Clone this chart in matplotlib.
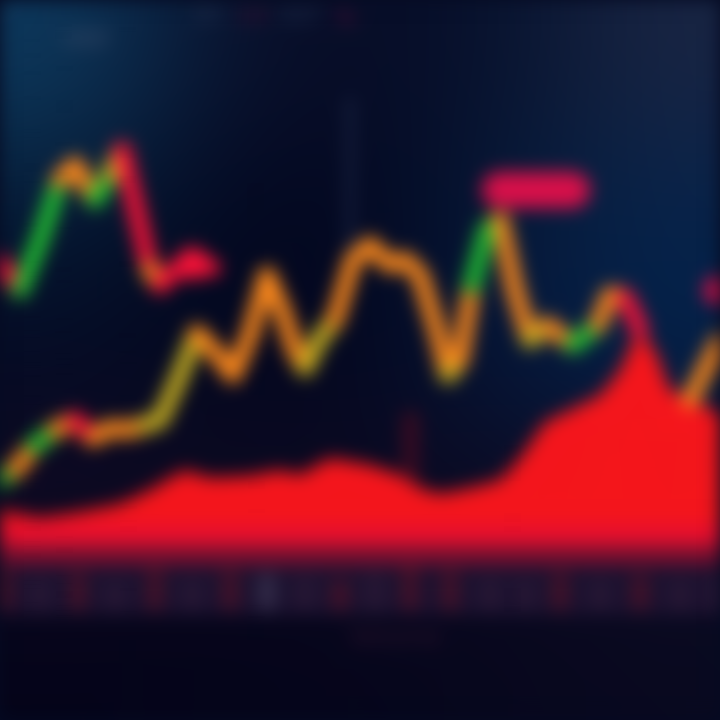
import numpy as np
import matplotlib
matplotlib.use("Agg")
import matplotlib.pyplot as plt
from matplotlib.collections import LineCollection

# upper trace (earlier session)
upper_t = [0, 20, 40, 60, 75, 95, 110, 122, 135, 150, 160, 175, 195, 212]
upper_p = [458, 430, 480, 540, 555, 520, 545, 570, 515, 450, 435, 450, 458, 452]
upper_trend = ['dn', 'up', 'up', 'fl', 'fl', 'up', 'mx', 'dn', 'dn', 'fl', 'dn', 'dn', 'dn']

# main trace
main_t = [0, 15, 35, 55, 75, 93, 110, 127, 145, 160, 178, 197, 215, 233, 250, 267,
          282, 295, 305, 320, 335, 353, 370, 390, 405, 420, 437, 448, 460, 472,
          487, 500, 515, 530, 547, 573, 598, 610, 625, 640]
main_p = [240, 250, 275, 290, 300, 282, 292, 290, 295, 300, 340, 387, 368, 345, 385, 445,
          410, 370, 352, 382, 400, 460, 475, 455, 460, 445, 390, 345, 360, 435,
          490, 500, 430, 380, 395, 375, 395, 425, 423, 390]
main_trend = ['up', 'fl', 'up', 'fl', 'dn', 'fl', 'fl', 'fl', 'mx', 'mx', 'mx', 'fl',
              'fl', 'fl', 'fl', 'fl', 'fl', 'fl', 'mx', 'mx', 'fl', 'fl', 'fl', 'fl',
              'fl', 'fl', 'fl', 'mx', 'fl', 'up', 'up', 'fl', 'fl', 'mx', 'fl', 'up',
              'fl', 'fl', 'dn']

# tail at the right edge
tail_t = [690, 705, 720]
tail_p = [320, 350, 380]
tail_trend = ['fl', 'fl']

# depth / red area
area_t = [0, 40, 80, 120, 150, 170, 185, 210, 250, 280, 300, 330, 370, 400, 420,
          440, 470, 500, 520, 545, 570, 600, 620, 638, 655, 670, 690, 710, 720]
area_p = [210, 202, 208, 216, 230, 242, 250, 242, 244, 250, 245, 262, 255, 245, 232,
          226, 232, 240, 262, 298, 310, 325, 350, 390, 370, 330, 322, 312, 305]
area_base = 175

# volume strip
vol_t = [5, 40, 78, 115, 155, 192, 230, 267, 305, 340, 375, 410, 450, 490, 525,
         560, 600, 640, 680, 715]
vol_h = [40, 30, 38, 28, 42, 30, 40, 36, 34, 30, 38, 44, 40, 32, 30, 38, 30, 36, 30, 34]
vol_up = [0, 1, 0, 1, 0, 1, 0, 2, 1, 0, 1, 0, 0, 1, 1, 0, 1, 0, 1, 1]

trend_colors = {'up': '#22c232', 'dn': '#ff1238', 'fl': '#ff8a1c', 'mx': '#c8b020'}


def box_blur(a, r, axis):
    a = np.moveaxis(a, axis, 0)
    p = np.pad(a, [(r + 1, r)] + [(0, 0)] * (a.ndim - 1), mode="edge")
    c = np.cumsum(p, axis=0)
    out = (c[2 * r + 1:] - c[:-2 * r - 1]) / (2 * r + 1)
    return np.moveaxis(out, 0, axis)


def blur_filter(im, dpi):
    pad = 40
    a = np.pad(im, [(pad, pad), (pad, pad), (0, 0)], mode="constant")
    alpha = a[..., 3:4]
    stack = np.concatenate([a[..., :3] * alpha, alpha], axis=2)
    for _ in range(3):
        stack = box_blur(stack, 8, 0)
        stack = box_blur(stack, 8, 1)
    alpha = stack[..., 3:4]
    rgb = stack[..., :3] / np.maximum(alpha, 1e-6)
    out = np.concatenate([np.clip(rgb, 0, 1), np.clip(alpha, 0, 1)], axis=2)
    return out, -pad, -pad


def segments(t, p):
    pts = np.column_stack([t, p])
    return np.stack([pts[:-1], pts[1:]], axis=1)


fig = plt.figure(figsize=(7.2, 7.2), dpi=100, facecolor='#050a22')
ax = fig.add_axes([0, 0, 1, 1])
ax.set_xlim(0, 720)
ax.set_ylim(0, 720)
ax.axis('off')

# background glow
bg_hex = [
    ['#0e3a5e', '#0a1430', '#080c26', '#081430', '#1a2644'],
    ['#061a34', '#040820', '#040820', '#071a3a', '#06244c'],
    ['#050b24', '#040820', '#040820', '#06183a', '#04224a'],
    ['#120a24', '#0e0a22', '#0e0a22', '#0e0a22', '#0e0c26'],
    ['#05051a', '#05051a', '#06061c', '#08081e', '#0a0a20'],
]
bg = np.array([[matplotlib.colors.to_rgb(c) for c in row] for row in bg_hex])
ax.imshow(bg, extent=(0, 720, 0, 720), origin='upper', interpolation='bicubic',
          aspect='auto', zorder=0)

# volume strip
ax.fill_between([0, 720], 105, 160, color='#1c1230', lw=0, zorder=1)
vol_cols = ['#4e1228', '#2c1a36', '#3a3450']
ax.bar(vol_t, vol_h, bottom=110, width=16,
       color=[vol_cols[v] for v in vol_up], alpha=0.85, zorder=1)

# faint guide lines
ax.plot([350, 350], [460, 620], color='#1e2848', lw=4, zorder=1)
ax.plot([410, 410], [240, 300], color='#3a0c22', lw=12, zorder=1)

# red area
ax.fill_between(area_t, area_base, area_p, color='#f4161c', lw=0, zorder=2)
ax.fill_between([0, 720], area_base, area_base + 22, color='#e8102e', lw=0, zorder=2)
ax.fill_between([0, 720], 155, area_base, color='#7a1030', lw=0, zorder=2)

# price traces
for t, p, tr in [(upper_t, upper_p, upper_trend), (main_t, main_p, main_trend),
                 (tail_t, tail_p, tail_trend)]:
    lc = LineCollection(segments(t, p), colors=[trend_colors[k] for k in tr],
                        linewidths=12, capstyle='round', joinstyle='round', zorder=3)
    ax.add_collection(lc)

# markers / labels
ax.plot([500, 572], [530, 530], color='#d8104a', lw=26, solid_capstyle='round', zorder=3)
ax.plot([192], [457], 'o', color='#ff1238', ms=22, zorder=3)
ax.plot([718], [430], 'o', color='#e0104a', ms=20, zorder=3)

ax.text(85, 680, "USD", color='#42506e', fontsize=16, ha='center', va='center', zorder=4)
ax.text(210, 704, "BTC", color='#2e3c5c', fontsize=12, ha='center', va='center', zorder=4)
ax.text(250, 704, "-2.4", color='#721038', fontsize=12, ha='center', va='center', zorder=4)
ax.text(300, 704, "USDT", color='#2e3c5c', fontsize=12, ha='center', va='center', zorder=4)
ax.text(345, 702, "%", color='#7a1040', fontsize=14, ha='center', va='center', zorder=4)
ax.text(395, 82, "Volume", color='#30142e', fontsize=18, ha='center', va='center', zorder=4)

ax.set_agg_filter(blur_filter)

fig.savefig("out.png", dpi=100, facecolor=fig.get_facecolor())
